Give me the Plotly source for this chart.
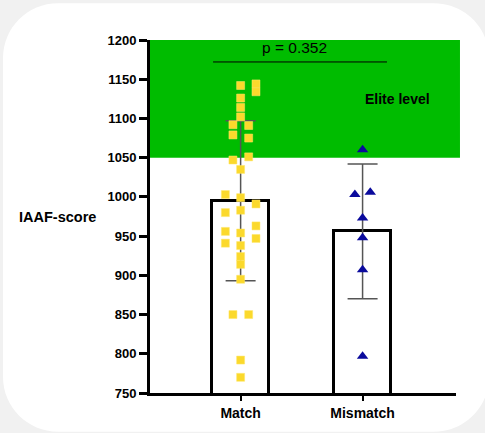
import plotly.graph_objects as go

# ---- data ----
categories = ["Match", "Mismatch"]
group_means = [995, 956]
group_sd = [102, 86]

match_scores = [1003, 980, 956, 941,
                1092, 1079, 1047, 850,
                1142, 1126, 1114, 1102, 1035, 999, 983, 954, 938, 924, 914, 895, 792, 770,
                1091, 1075, 1051, 850,
                1144, 1134, 991, 963, 947]
match_jitter = [-0.125] * 4 + [-0.063] * 4 + [0.0] * 14 + [0.066] * 4 + [0.126] * 5

mismatch_scores = [1060, 1003, 1006, 973, 948, 907, 797]
mismatch_jitter = [0.0, -0.063, 0.063, 0.0, 0.0, 0.0, 0.0]

elite_threshold = 1050
y_ticks = [750, 800, 850, 900, 950, 1000, 1050, 1100, 1150, 1200]
p_label = "p = 0.352"

# ---- layout geometry ----
W, H = 485, 433
L, R, T, B = 150, 29, 40, 38
PW, PH = W - L - R, H - T - B


def px_to_paper(px, py):
    return (px - L) / PW, (H - B - py) / PH


def rounded_rect_path(x0, y0, x1, y1, r):
    k = 0.5523 * r
    def P(x, y):
        a, b = px_to_paper(x, y)
        return f"{a:.5f},{b:.5f}"
    d = f"M {P(x0 + r, y0)} L {P(x1 - r, y0)} "
    d += f"C {P(x1 - r + k, y0)} {P(x1, y0 + r - k)} {P(x1, y0 + r)} "
    d += f"L {P(x1, y1 - r)} "
    d += f"C {P(x1, y1 - r + k)} {P(x1 - r + k, y1)} {P(x1 - r, y1)} "
    d += f"L {P(x0 + r, y1)} "
    d += f"C {P(x0 + r - k, y1)} {P(x0, y1 - r + k)} {P(x0, y1 - r)} "
    d += f"L {P(x0, y0 + r)} "
    d += f"C {P(x0, y0 + r - k)} {P(x0 + r - k, y0)} {P(x0 + r, y0)} Z"
    return d


FONT = "Liberation Sans, Arial, sans-serif"

fig = go.Figure()

fig.add_trace(go.Bar(
    x=[0, 1], y=group_means, width=0.47,
    marker=dict(color="white", line=dict(color="black", width=3)),
    error_y=dict(type="data", array=group_sd, visible=True,
                 color="#555555", thickness=1.5, width=15),
    showlegend=False, hoverinfo="skip",
))

fig.add_trace(go.Scatter(
    x=[0 + j for j in match_jitter], y=match_scores, mode="markers",
    marker=dict(symbol="square", size=8, color="#fbd92c",
                line=dict(color="#ffe66b", width=0.5)),
    showlegend=False,
))

fig.add_trace(go.Scatter(
    x=[1 + j for j in mismatch_jitter], y=mismatch_scores, mode="markers",
    marker=dict(symbol="triangle-up", size=10, color="#0a0a9c",
                line=dict(width=0)),
    showlegend=False,
))

# significance line
fig.add_trace(go.Scatter(
    x=[-0.226, 1.2], y=[1172, 1172], mode="lines",
    line=dict(color="black", width=1), showlegend=False, hoverinfo="skip",
))

shapes = [
    dict(type="path", xref="paper", yref="paper", layer="below",
         path=rounded_rect_path(3, 3, 489, 434, 55),
         fillcolor="white", line=dict(width=0)),
    dict(type="rect", xref="paper", yref="y", layer="below",
         x0=0, x1=1.013, y0=elite_threshold, y1=1203.5,
         fillcolor="#00bc00", line=dict(width=0)),
]

ax, ay = px_to_paper(57.5, 218)
annotations = [
    dict(x=0.44, y=1190, xref="x", yref="y", text=p_label, showarrow=False,
         font=dict(family=FONT, size=15.5, color="black")),
    dict(x=1.29, y=1125, xref="x", yref="y", text="<b>Elite level</b>", showarrow=False,
         font=dict(family=FONT, size=14, color="black")),
    dict(x=ax, y=ay, xref="paper", yref="paper", text="<b>IAAF-score</b>", showarrow=False,
         xanchor="center", yanchor="middle",
         font=dict(family=FONT, size=14.5, color="black")),
]

fig.update_layout(
    width=W, height=H,
    margin=dict(l=L, r=R, t=T, b=B, pad=0),
    paper_bgcolor="#f1f1f1",
    plot_bgcolor="rgba(0,0,0,0)",
    shapes=shapes,
    annotations=annotations,
    bargap=0,
    xaxis=dict(range=[-0.743, 1.766], tickvals=[0, 1],
               ticktext=[f"<b>{c}</b>" for c in categories],
               showline=True, linecolor="black", linewidth=3,
               ticks="outside", ticklen=5, tickwidth=2, tickcolor="black",
               showgrid=False, zeroline=False,
               tickfont=dict(family=FONT, size=14, color="black")),
    yaxis=dict(range=[750, 1200], tickvals=y_ticks,
               ticktext=[f"<b>{v}</b>" for v in y_ticks],
               showline=True, linecolor="black", linewidth=3,
               ticks="outside", ticklen=8, tickwidth=3, tickcolor="black",
               showgrid=False, zeroline=False,
               tickfont=dict(family=FONT, size=13, color="black")),
    font=dict(family=FONT),
)

fig.write_html("out.html",
               config={"displayModeBar": False},
               post_script="document.body.style.margin='0px';"
                           "document.body.style.overflow='hidden';"
                           "document.body.style.background='#f1f1f1';")
